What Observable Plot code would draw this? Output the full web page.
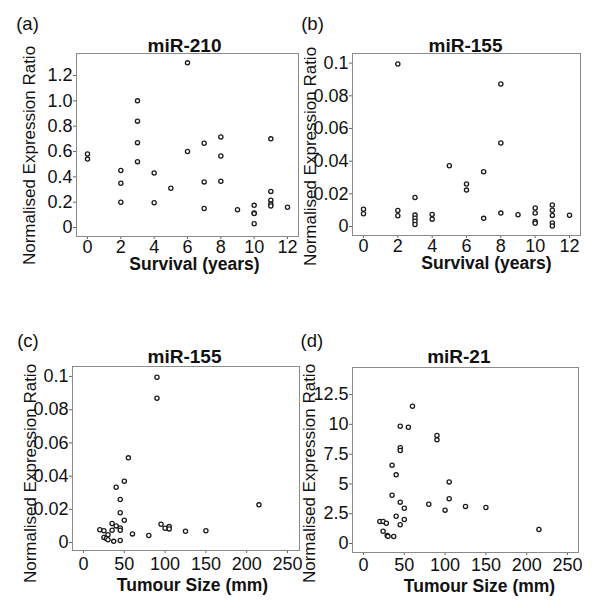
<!DOCTYPE html>
<html><head><meta charset="utf-8">
<script src="https://cdn.jsdelivr.net/npm/d3@7"></script>
<script src="https://cdn.jsdelivr.net/npm/@observablehq/plot@0.6"></script>
<style>
html,body{margin:0;padding:0;background:#fff;}
#wrap{position:relative;width:600px;height:608px;overflow:hidden;background:#fff;}
.panel{position:absolute;}
.panel svg{overflow:visible;}
.panel svg g[aria-label="x-axis tick"] path,
.panel svg g[aria-label="y-axis tick"] path{stroke:#666;}
</style></head><body><div id="wrap"></div>
<script>
// ---------- Data ----------
const letters = ["(a)", "(b)", "(c)", "(d)"];
const titles = ["miR-210", "miR-155", "miR-155", "miR-21"];
const yLabel = "Normalised Expression Ratio";
const xLabels = ["Survival (years)", "Survival (years)", "Tumour Size (mm)", "Tumour Size (mm)"];

const survivalTicks = [0, 2, 4, 6, 8, 10, 12];
const sizeTicks = [0, 50, 100, 150, 200, 250];
const yTicksA = [0, 0.2, 0.4, 0.6, 0.8, 1.0, 1.2];
const yTickLabelsA = ["0", "0.2", "0.4", "0.6", "0.8", "1.0", "1.2"];
const yTicks155 = [0, 0.02, 0.04, 0.06, 0.08, 0.1];
const yTickLabels155 = ["0", "0.02", "0.04", "0.06", "0.08", "0.1"];
const yTicksD = [0, 2.5, 5, 7.5, 10, 12.5];
const yTickLabelsD = ["0", "2.5", "5", "7.5", "10", "12.5"];

// (a) miR-210 vs survival
const survivalA = [0,0, 2,2,2, 3,3,3,3, 4,4, 5, 6,6, 7,7,7, 8,8,8, 9, 10,10,10,10, 11,11,11,11,11, 12];
const mir210A = [0.58,0.54, 0.45,0.35,0.20, 1.00,0.84,0.67,0.52, 0.43,0.195, 0.31, 1.30,0.60, 0.665,0.36,0.15, 0.715,0.565,0.365, 0.14, 0.175,0.115,0.11,0.03, 0.70,0.285,0.215,0.185,0.17, 0.16];

// (b) miR-155 vs survival
const survivalB = [0,0, 2,2,2, 3,3,3,3,3, 4,4, 5, 6,6, 7,7, 8,8,8, 9, 10,10,10,10, 11,11,11,11,11, 12];
const mir155B = [0.0106,0.0078, 0.0995,0.0098,0.0066, 0.0178,0.0070,0.0051,0.0032,0.0012, 0.0074,0.0045, 0.0372, 0.0260,0.0223, 0.0335,0.0050, 0.0872,0.0511,0.0082, 0.0072, 0.0113,0.0083,0.0030,0.0020, 0.0132,0.0100,0.0068,0.0022,0.0003, 0.0069];

// (c) miR-155 vs tumour size
const sizeC = [90,90,55,50,40,45,45,50,215,35,40,45,45,20,25,35,30,25,28,30,37,45,60,80,95,100,105,105,125,150];
const mir155C = [0.0995,0.0869,0.0510,0.0369,0.0333,0.0259,0.0179,0.0134,0.0227,0.0115,0.0100,0.0088,0.0074,0.0077,0.0071,0.0074,0.0047,0.0030,0.0024,0.0017,0.0007,0.0012,0.0052,0.0042,0.0110,0.0086,0.0096,0.0082,0.0068,0.0071];

// (d) miR-21 vs tumour size
const sizeD = [60,45,55,90,90,45,45,35,40,105,35,105,45,80,125,150,50,100,40,50,20,24,28,45,24,29,30,37,215];
const mir21D = [11.52,9.84,9.76,9.06,8.70,8.03,7.80,6.57,5.76,5.17,4.05,3.75,3.47,3.30,3.10,3.02,2.96,2.80,2.29,2.01,1.85,1.85,1.70,1.57,1.03,0.67,0.60,0.59,1.17];

// ---------- Layout ----------
const FONT = "'Liberation Sans', Arial, Helvetica, sans-serif";
const panels = [
  {left:0, top:0, h:300, m:[53,2,64,76], xd:[-0.66,12.66], yd:[-0.071,1.374], xt:survivalTicks, yt:yTicksA, ytl:yTickLabelsA,
   xs:survivalA, ys:mir210A, xpad:1, letter:[-60.3,-23.5], title:[-3,-1.5], ylab:[-42,10.5], xlab:[7,33]},
  {left:300, top:0, h:300, m:[53,20,65,52], xd:[-0.64,12.64], yd:[-0.0055,0.1059], xt:survivalTicks, yt:yTicks155, ytl:yTickLabels155,
   xs:survivalB, ys:mir155B, xpad:1, letter:[-51.3,-23.5], title:[-1,-1.5], ylab:[-37,12], xlab:[20,33]},
  {left:0, top:300, h:308, m:[66,1,58,72], xd:[-13.5,264.7], yd:[-0.0048,0.106], xt:sizeTicks, yt:yTicks155, ytl:yTickLabels155,
   xs:sizeC, ys:mir155C, xpad:4, letter:[-55.3,-20], title:[-1.5,-3.3], ylab:[-36.5,15], xlab:[6.5,40]},
  {left:300, top:300, h:308, m:[67,22,56,52], xd:[-13.5,263.5], yd:[-0.755,14.77], xt:sizeTicks, yt:yTicksD, ytl:yTickLabelsD,
   xs:sizeD, ys:mir21D, xpad:3, letter:[-52,-21], title:[-6.7,-4.3], ylab:[-38,13.5], xlab:[14,39]}
];

const wrap = document.getElementById("wrap");
panels.forEach((p, k) => {
  const rows = p.xs.map((x, i) => ({x, y: p.ys[i]}));
  const labelOf = v => p.ytl[p.yt.findIndex(t => Math.abs(t - v) < 1e-9)];
  const chart = Plot.plot({
    width: 300,
    height: p.h,
    marginTop: p.m[0], marginRight: p.m[1], marginBottom: p.m[2], marginLeft: p.m[3],
    style: {fontFamily: FONT, fontSize: "18px", color: "#111", background: "transparent"},
    x: {domain: p.xd, ticks: p.xt, tickSize: 3, tickPadding: p.xpad, label: null, tickFormat: d => String(d)},
    y: {domain: p.yd, ticks: p.yt, tickSize: 3, tickPadding: 1, label: null, tickFormat: labelOf},
    marks: [
      Plot.frame({stroke: "#8a8a8a", strokeWidth: 1}),
      Plot.dot(rows, {x: "x", y: "y", r: 2.1, stroke: "#1a1a1a", strokeWidth: 1.3, fill: "white"}),
      Plot.text([titles[k]], {text: d => d, frameAnchor: "top", lineAnchor: "bottom", dx: p.title[0], dy: p.title[1],
        fontSize: 19, fontWeight: "bold", fill: "#111"}),
      Plot.text([letters[k]], {text: d => d, frameAnchor: "top-left", textAnchor: "start", lineAnchor: "bottom",
        dx: p.letter[0], dy: p.letter[1], fontSize: 18.5, fill: "#111"}),
      Plot.text([yLabel], {text: d => d, frameAnchor: "left", rotate: -90, textAnchor: "middle", lineAnchor: "bottom",
        dx: p.ylab[0], dy: p.ylab[1], fontSize: 17, fill: "#111"}),
      Plot.text([xLabels[k]], {text: d => d, frameAnchor: "bottom", lineAnchor: "bottom",
        dx: p.xlab[0], dy: p.xlab[1], fontSize: 17.5, fontWeight: "bold", fill: "#111"})
    ]
  });
  const div = document.createElement("div");
  div.className = "panel";
  div.style.left = p.left + "px";
  div.style.top = p.top + "px";
  div.appendChild(chart);
  wrap.appendChild(div);
});
</script>
</body></html>
